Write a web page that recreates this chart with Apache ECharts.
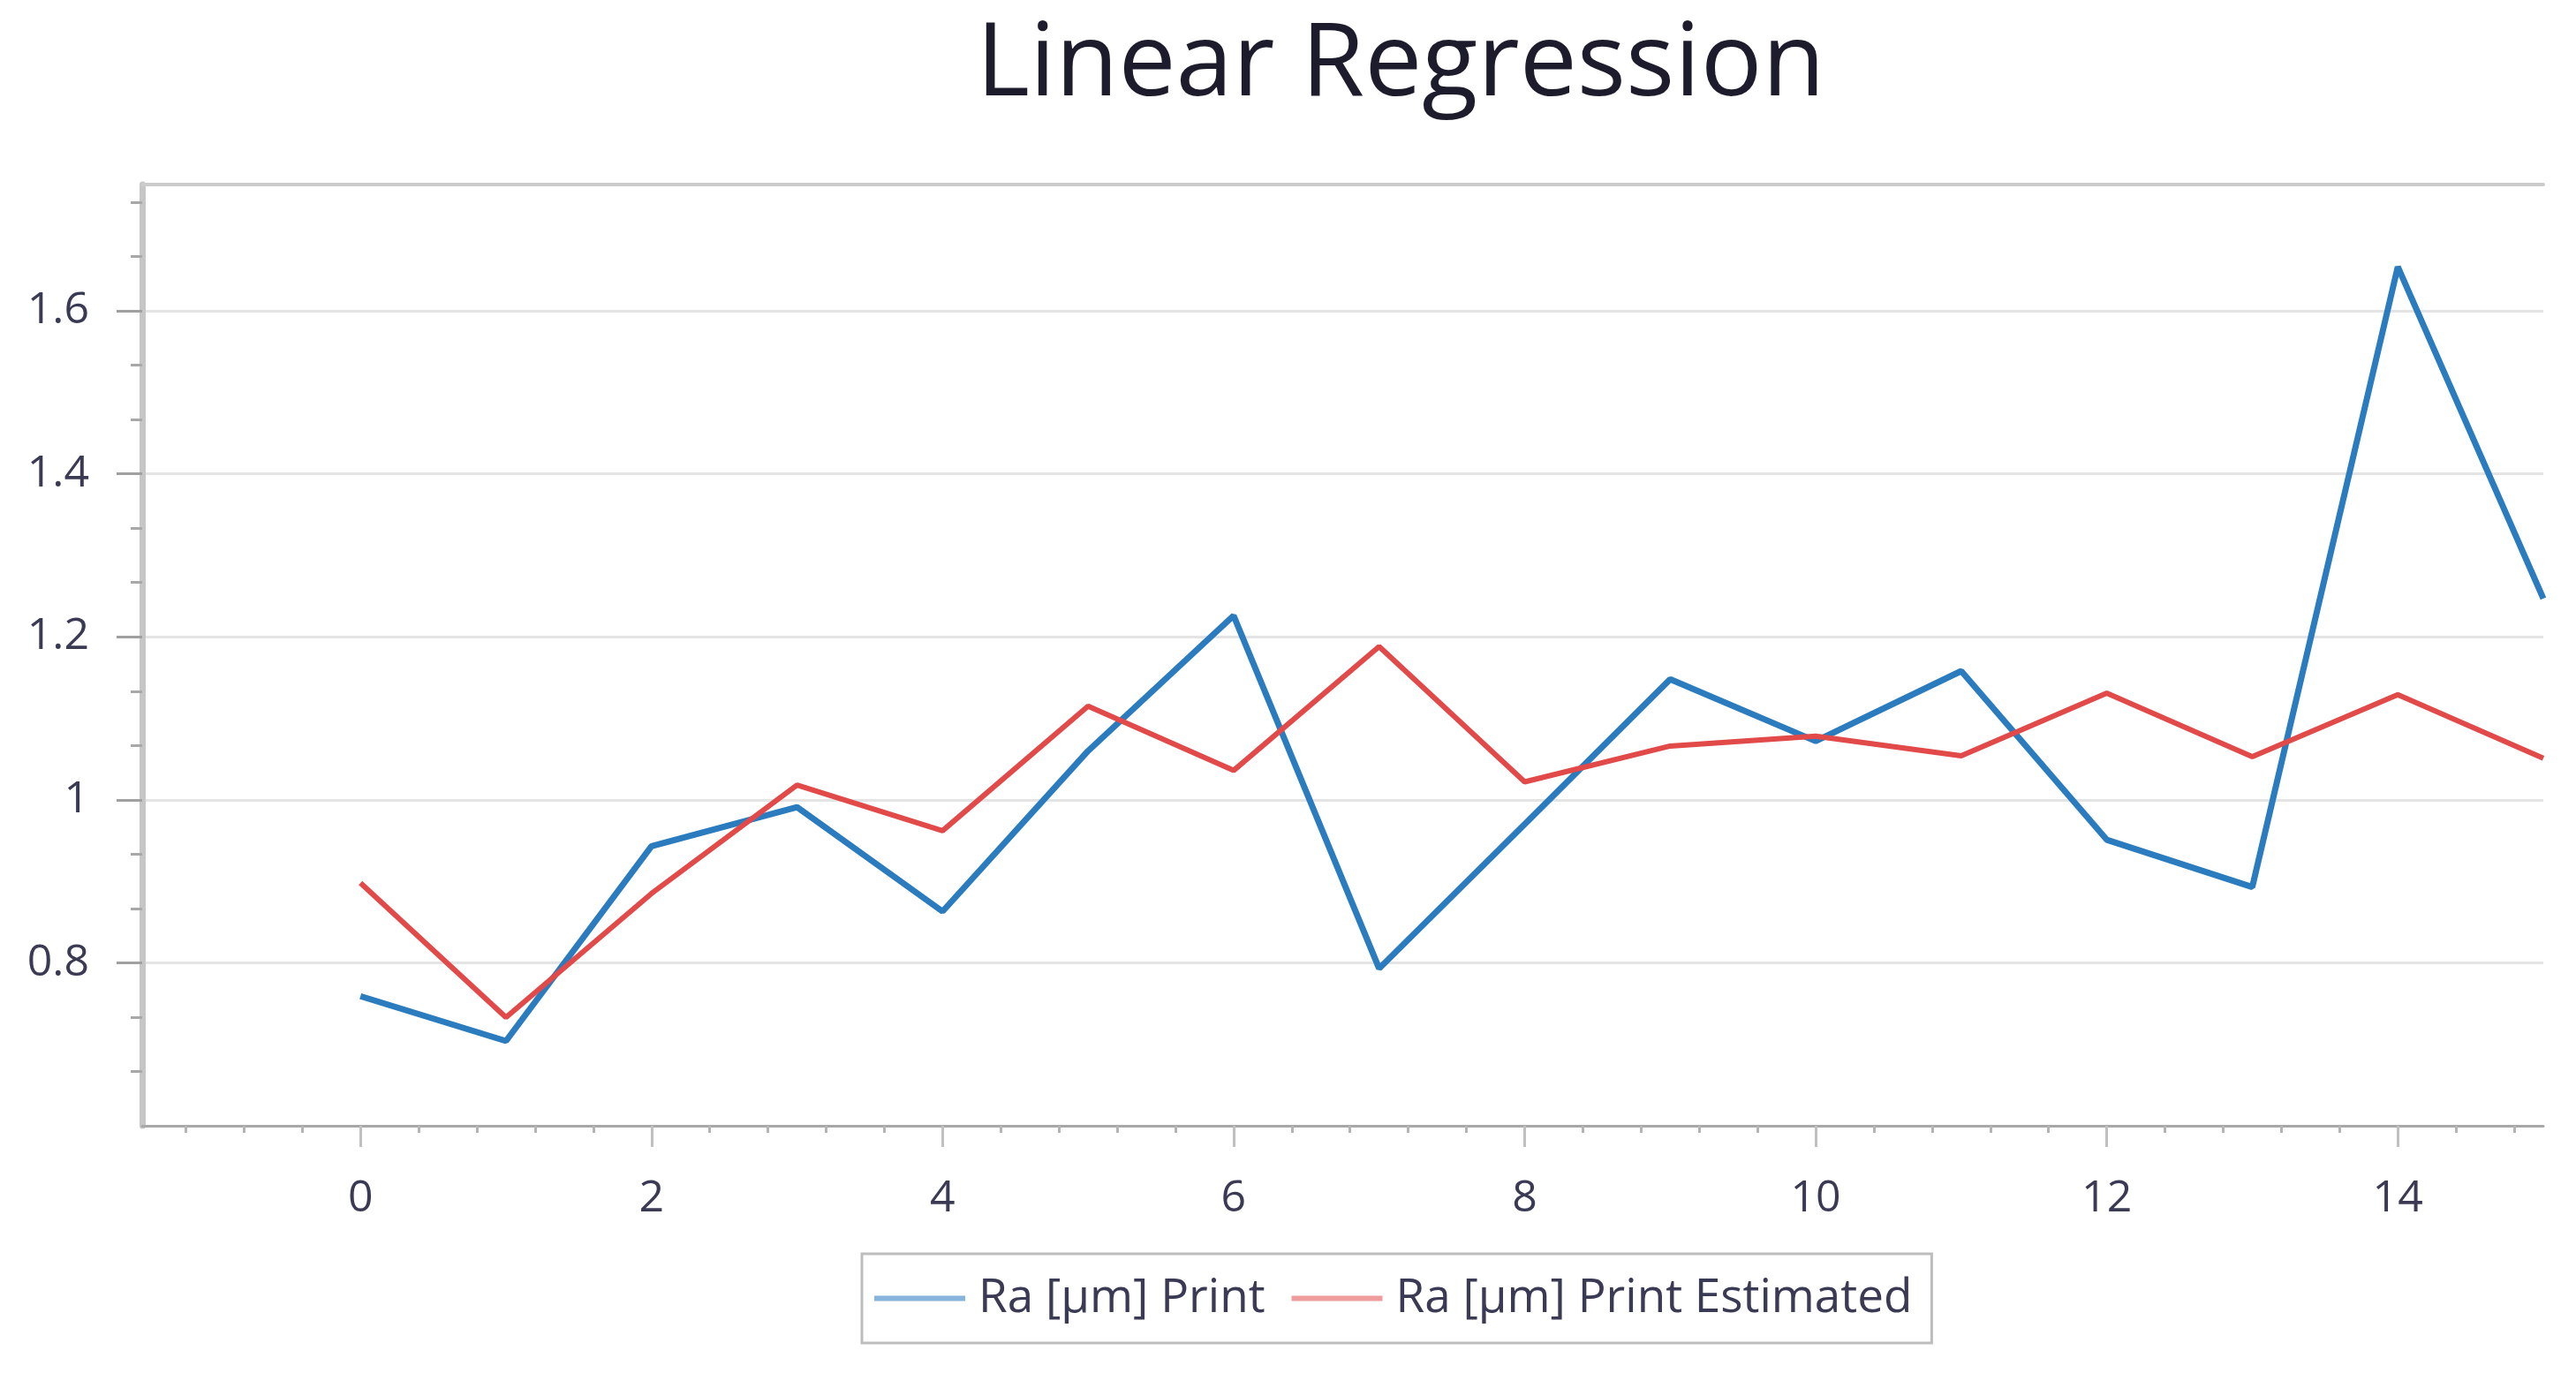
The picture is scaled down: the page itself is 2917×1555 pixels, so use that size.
<!DOCTYPE html>
<html>
<head>
<meta charset="utf-8">
<script src="https://cdn.jsdelivr.net/npm/echarts@6/dist/echarts.min.js"></script>
<style>
html,body{margin:0;padding:0;background:#fff;}
#chart{width:2917px;height:1555px;}
</style>
</head>
<body>
<div id="chart"></div>
<script>
// ---- data ----
const xValues = [0, 1, 2, 3, 4, 5, 6, 7, 8, 9, 10, 11, 12, 13, 14, 15];
const raPrint = [0.759, 0.704, 0.943, 0.991, 0.863, 1.06, 1.226, 0.793, 0.97, 1.148, 1.072, 1.158, 0.951, 0.893, 1.654, 1.247];
const raPrintEstimated = [0.898, 0.733, 0.885, 1.018, 0.962, 1.115, 1.036, 1.188, 1.022, 1.066, 1.078, 1.054, 1.131, 1.053, 1.129, 1.051];
const xTickLabels = [0, 2, 4, 6, 8, 10, 12, 14];
const yTickLabels = [0.8, 1, 1.2, 1.4, 1.6];
const seriesNames = ['Ra [μm] Print', 'Ra [μm] Print Estimated'];
const titleText = 'Linear Regression';

// ---- axis structure ----
const X_MIN = -1.5, X_MAX = 15, Y_MIN = 0.6, Y_MAX = 1.755;
const xMinor = [];
for (let k = -3; k <= 37; k++) {
  const v = +(k * 0.4).toFixed(3);
  if (v > X_MIN && v < X_MAX && Math.abs(v / 2 - Math.round(v / 2)) > 1e-6) xMinor.push(v);
}
const yMinor = [];
for (let k = 0; k <= 20; k++) {
  const v = +(0.6 + k * 0.2 / 3).toFixed(4);
  if (k % 3 !== 0 && v < Y_MAX) yMinor.push(v);
}

const FONT = "'Open Sans','Noto Sans',sans-serif";
const LABEL_COLOR = '#3a3a55';

const chart = echarts.init(document.getElementById('chart'));
chart.setOption({
  animation: false,
  backgroundColor: '#ffffff',
  title: {
    text: titleText,
    left: 1581,
    top: 12,
    textAlign: 'center',
    textStyle: { fontFamily: FONT, fontSize: 116, fontWeight: 'normal', color: '#1c1c2c' }
  },
  legend: {
    left: 976,
    top: 1420,
    padding: [24, 22, 24, 14],
    itemGap: 30,
    itemWidth: 103,
    itemHeight: 6,
    icon: 'rect',
    borderColor: '#bdbdbd',
    borderWidth: 3,
    textStyle: { fontFamily: FONT, fontSize: 53, color: LABEL_COLOR, padding: [0, 0, 0, 10] },
    data: [
      { name: seriesNames[0], itemStyle: { color: '#86b4dc' } },
      { name: seriesNames[1], itemStyle: { color: '#ee9c9c' } }
    ]
  },
  grid: { left: 161, right: 37, top: 209, bottom: 280, containLabel: false },
  xAxis: [
    {
      type: 'value', min: X_MIN, max: X_MAX, position: 'bottom',
      axisLine: { show: true, onZero: false, lineStyle: { color: '#a8a8a8', width: 3 } },
      axisTick: { show: true, customValues: xTickLabels, length: 24, lineStyle: { color: '#c0c0c0', width: 3 } },
      axisLabel: { customValues: xTickLabels, margin: 58, fontFamily: FONT, fontSize: 50, color: LABEL_COLOR },
      splitLine: { show: false }
    },
    {
      type: 'value', min: X_MIN, max: X_MAX, position: 'bottom',
      axisLine: { show: false, onZero: false },
      axisTick: { show: true, customValues: xMinor, length: 8, lineStyle: { color: '#b4b4b4', width: 3 } },
      axisLabel: { show: false },
      splitLine: { show: false }
    },
    {
      type: 'value', min: X_MIN, max: X_MAX, position: 'top',
      axisLine: { show: true, onZero: false, lineStyle: { color: '#cbcbcb', width: 4 } },
      axisTick: { show: false },
      axisLabel: { show: false },
      splitLine: { show: false }
    }
  ],
  yAxis: [
    {
      type: 'value', min: Y_MIN, max: Y_MAX, position: 'left',
      axisLine: { show: true, onZero: false, lineStyle: { color: '#c6c6c6', width: 7 } },
      axisTick: { show: true, customValues: yTickLabels, length: 29, lineStyle: { color: '#a0a0a0', width: 3 } },
      axisLabel: { customValues: yTickLabels, margin: 60, fontFamily: FONT, fontSize: 50, color: LABEL_COLOR },
      splitLine: { show: true, lineStyle: { color: '#e4e4e4', width: 3 } }
    },
    {
      type: 'value', min: Y_MIN, max: Y_MAX, position: 'left',
      axisLine: { show: false, onZero: false },
      axisTick: { show: true, customValues: yMinor, length: 13, lineStyle: { color: '#a8a8a8', width: 3 } },
      axisLabel: { show: false },
      splitLine: { show: false }
    }
  ],
  series: [
    {
      name: seriesNames[0], type: 'line', xAxisIndex: 0, yAxisIndex: 0,
      data: xValues.map((x, i) => [x, raPrint[i]]),
      symbol: 'none', showSymbol: false,
      lineStyle: { color: '#2b7bbf', width: 7 },
      itemStyle: { color: '#2b7bbf' },
      z: 3
    },
    {
      name: seriesNames[1], type: 'line', xAxisIndex: 0, yAxisIndex: 0,
      data: xValues.map((x, i) => [x, raPrintEstimated[i]]),
      symbol: 'none', showSymbol: false,
      lineStyle: { color: '#e24a4a', width: 6 },
      itemStyle: { color: '#e24a4a' },
      z: 4
    }
  ]
});
</script>
</body>
</html>
